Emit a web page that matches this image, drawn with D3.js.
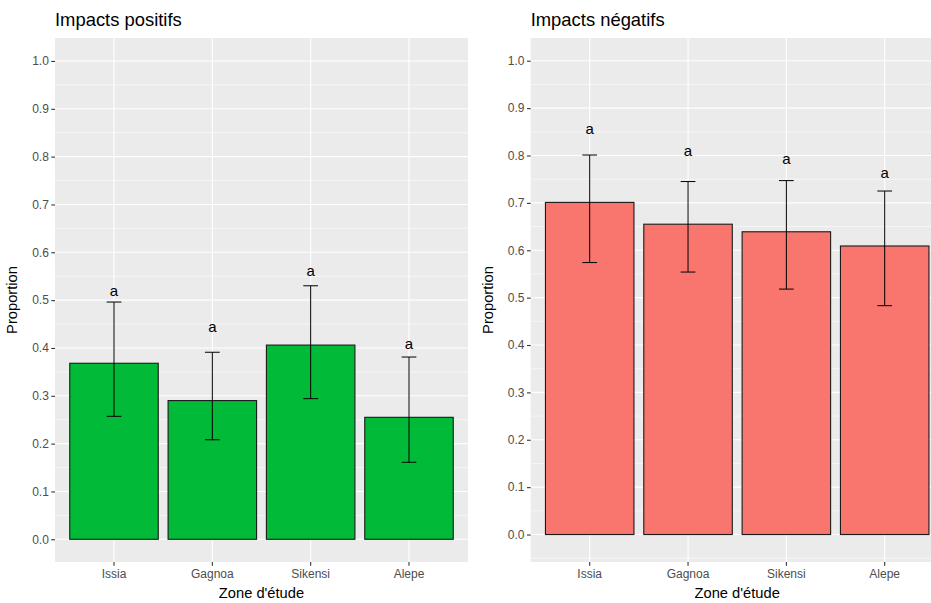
<!DOCTYPE html>
<html>
<head>
<meta charset="utf-8">
<script src="https://cdn.jsdelivr.net/npm/d3@7"></script>
<style>
  html, body { margin: 0; padding: 0; background: #ffffff; }
  svg { display: block; font-family: "Liberation Sans", Arial, sans-serif; }
</style>
</head>
<body>
<svg id="chart" width="931" height="603"></svg>
<script>
// Study zones shown on both panels
const zones = ["Issia", "Gagnoa", "Sikensi", "Alepe"];

// Positive impacts: proportion, confidence interval, letter position
const positifs      = [0.368, 0.290, 0.406, 0.255];
const positifsLow   = [0.257, 0.208, 0.294, 0.161];
const positifsHigh  = [0.496, 0.391, 0.530, 0.381];
const positifsLetter = [0.517, 0.442, 0.558, 0.406];

// Negative impacts: proportion, confidence interval, letter position
const negatifs      = [0.701, 0.655, 0.639, 0.609];
const negatifsLow   = [0.574, 0.554, 0.518, 0.483];
const negatifsHigh  = [0.801, 0.745, 0.747, 0.725];
const negatifsLetter = [0.853, 0.807, 0.791, 0.761];

// Significance letters
const letters = ["a", "a", "a", "a"];

// Y axis ticks
const yTicks = [0, 0.1, 0.2, 0.3, 0.4, 0.5, 0.6, 0.7, 0.8, 0.9, 1.0];
const yMinor = [-0.05, 0.05, 0.15, 0.25, 0.35, 0.45, 0.55, 0.65, 0.75, 0.85, 0.95, 1.05];

const svg = d3.select("#chart");

function panel(opts) {
  const g = svg.append("g");
  const { left, right, top, bottom, yDomain, values, low, high, letterY, fill, title } = opts;

  const x = d3.scaleBand().domain(zones).range([left, right])
    .paddingInner(0.1).paddingOuter(0.15);
  const y = d3.scaleLinear().domain(yDomain).range([bottom, top]);
  const step = x.step();
  const cx = d => x(d) + x.bandwidth() / 2;

  // panel background
  g.append("rect")
    .attr("x", left).attr("y", top)
    .attr("width", right - left).attr("height", bottom - top)
    .attr("fill", "#EBEBEB");

  const inside = v => y(v) >= top - 0.5 && y(v) <= bottom + 0.5;

  // minor gridlines
  g.selectAll(".minor").data(yMinor.filter(inside)).enter().append("line")
    .attr("x1", left).attr("x2", right)
    .attr("y1", d => y(d)).attr("y2", d => y(d))
    .attr("stroke", "#ffffff").attr("stroke-width", 0.55);

  // major gridlines
  g.selectAll(".major").data(yTicks).enter().append("line")
    .attr("x1", left).attr("x2", right)
    .attr("y1", d => y(d)).attr("y2", d => y(d))
    .attr("stroke", "#ffffff").attr("stroke-width", 1.1);

  g.selectAll(".vmajor").data(zones).enter().append("line")
    .attr("x1", d => cx(d)).attr("x2", d => cx(d))
    .attr("y1", top).attr("y2", bottom)
    .attr("stroke", "#ffffff").attr("stroke-width", 1.1);

  // bars
  g.selectAll(".bar").data(zones).enter().append("rect")
    .attr("x", d => x(d))
    .attr("y", (d, i) => y(values[i]))
    .attr("width", x.bandwidth())
    .attr("height", (d, i) => y(0) - y(values[i]))
    .attr("fill", fill)
    .attr("stroke", "#1a1a1a").attr("stroke-width", 1.1);

  // error bars
  const capHalf = step * 0.075;
  const eb = g.selectAll(".eb").data(zones).enter().append("g");
  eb.append("line")
    .attr("x1", d => cx(d)).attr("x2", d => cx(d))
    .attr("y1", (d, i) => y(low[i])).attr("y2", (d, i) => y(high[i]))
    .attr("stroke", "#000").attr("stroke-width", 1);
  eb.append("line")
    .attr("x1", d => cx(d) - capHalf).attr("x2", d => cx(d) + capHalf)
    .attr("y1", (d, i) => y(low[i])).attr("y2", (d, i) => y(low[i]))
    .attr("stroke", "#000").attr("stroke-width", 1);
  eb.append("line")
    .attr("x1", d => cx(d) - capHalf).attr("x2", d => cx(d) + capHalf)
    .attr("y1", (d, i) => y(high[i])).attr("y2", (d, i) => y(high[i]))
    .attr("stroke", "#000").attr("stroke-width", 1);

  // significance letters
  g.selectAll(".letter").data(zones).enter().append("text")
    .attr("x", d => cx(d))
    .attr("y", (d, i) => y(letterY[i]) + 4)
    .attr("text-anchor", "middle")
    .attr("font-size", 15)
    .attr("fill", "#000")
    .text((d, i) => letters[i]);

  // y axis
  const yAxis = d3.axisLeft(y).tickValues(yTicks).tickFormat(d3.format(".1f"))
    .tickSize(3.7).tickPadding(2.5);
  const ya = g.append("g").attr("transform", `translate(${left},0)`).call(yAxis);
  ya.select(".domain").remove();
  ya.selectAll(".tick line").attr("stroke", "#333333").attr("stroke-width", 1.1);
  ya.selectAll(".tick text").attr("fill", "#4D4D4D").attr("font-size", 12)
    .attr("font-family", "Liberation Sans, Arial, sans-serif");

  // x axis
  const xAxis = d3.axisBottom(x).tickSize(3.7).tickPadding(4);
  const xa = g.append("g").attr("transform", `translate(0,${bottom})`).call(xAxis);
  xa.select(".domain").remove();
  xa.selectAll(".tick line").attr("stroke", "#333333").attr("stroke-width", 1.1);
  xa.selectAll(".tick text").attr("fill", "#4D4D4D").attr("font-size", 12)
    .attr("font-family", "Liberation Sans, Arial, sans-serif");

  // axis titles
  g.append("text")
    .attr("x", (left + right) / 2).attr("y", 598)
    .attr("text-anchor", "middle").attr("font-size", 14.7).attr("fill", "#000")
    .text("Zone d'étude");
  g.append("text")
    .attr("transform", `translate(${left - 38},${(top + bottom) / 2}) rotate(-90)`)
    .attr("text-anchor", "middle").attr("font-size", 14.7).attr("fill", "#000")
    .text("Proportion");

  // panel title
  g.append("text")
    .attr("x", left).attr("y", 26)
    .attr("font-size", 18.4).attr("fill", "#000")
    .text(title);
}

panel({
  left: 55, right: 468, top: 38, bottom: 562,
  yDomain: [-0.0475, 1.048],
  values: positifs, low: positifsLow, high: positifsHigh, letterY: positifsLetter,
  fill: "#00BA38", title: "Impacts positifs"
});

panel({
  left: 530.7, right: 943.7, top: 38, bottom: 562,
  yDomain: [-0.058, 1.048],
  values: negatifs, low: negatifsLow, high: negatifsHigh, letterY: negatifsLetter,
  fill: "#F8766D", title: "Impacts négatifs"
});
</script>
</body>
</html>
